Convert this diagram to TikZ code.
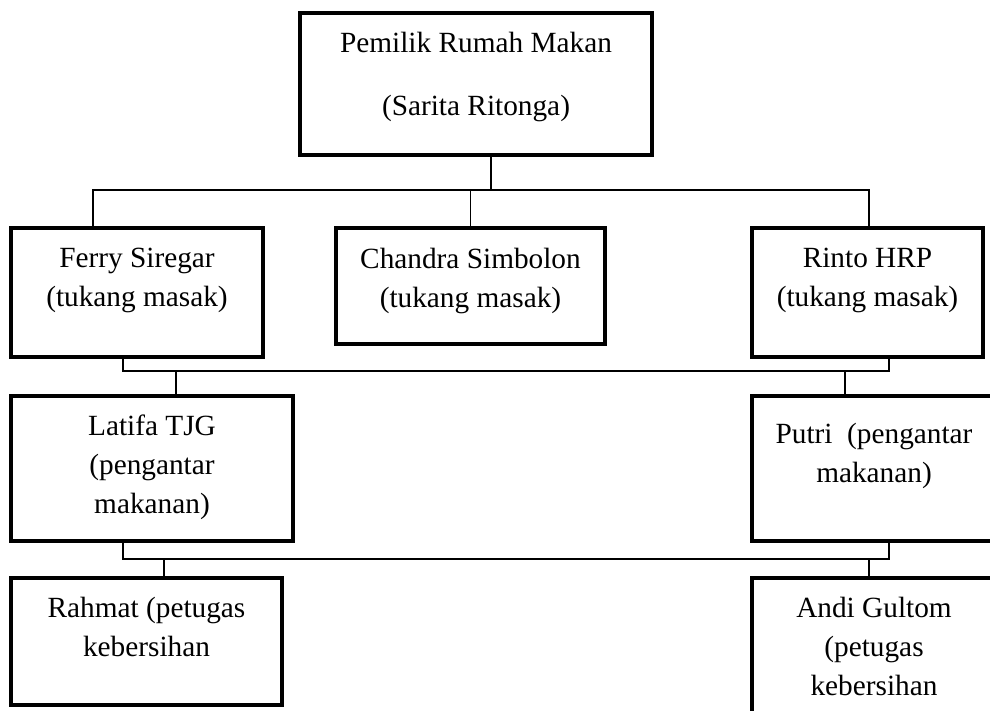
\documentclass[tikz,border=0pt]{standalone}
\usepackage{fontspec}
\setmainfont{Liberation Serif}

\tikzset{
  box/.style={draw, rectangle, line width=4pt, outer sep=0pt, inner sep=0pt},
  txt/.style={anchor=north, align=center, inner sep=0pt, font=\fontsize{29.3pt}{39pt}\selectfont},
  conn/.style={line width=1.8pt}
}

\begin{document}
\begin{tikzpicture}[x=1pt,y=-1pt]
\useasboundingbox (0,0) rectangle (990,711);
\clip (0,0) rectangle (990,711);

\node[box, minimum width=352pt, minimum height=142pt] (owner) at (476,84) {};

\node[box, minimum width=252pt, minimum height=129pt] (ferry) at (137,292.5) {};
\node[box, minimum width=269pt, minimum height=116pt] (chandra) at (470.5,286) {};
\node[box, minimum width=231pt, minimum height=129pt] (rinto) at (867.5,292.5) {};

\node[box, minimum width=282pt, minimum height=145pt] (latifa) at (152,468.5) {};
\node[box, minimum width=244pt, minimum height=145pt] (putri) at (874,468.5) {};

\node[box, minimum width=271pt, minimum height=127pt] (rahmat) at (146.5,641.5) {};
\node[box, minimum width=244pt, minimum height=160pt] (andi) at (874,658) {};

\node[txt, yshift=-19pt] (owner-t) at (owner.north) {Pemilik Rumah Makan\\[24pt](Sarita Ritonga)};
\node[txt, yshift=-20pt] (ferry-t) at (ferry.north) {Ferry Siregar\\(tukang masak)};
\node[txt, yshift=-20pt] (chandra-t) at (chandra.north) {Chandra Simbolon\\(tukang masak)};
\node[txt, yshift=-20pt] (rinto-t) at (rinto.north) {Rinto HRP\\(tukang masak)};
\node[txt, yshift=-19pt] (latifa-t) at (latifa.north) {Latifa TJG\\(pengantar\\makanan)};
\node[txt, yshift=-27pt] (putri-t) at (putri.north) {Putri~ (pengantar\\makanan)};
\node[txt, yshift=-19pt] (rahmat-t) at (rahmat.north) {Rahmat (petugas\\kebersihan};
\node[txt, yshift=-19pt] (andi-t) at (andi.north) {Andi Gultom\\(petugas\\kebersihan};

\coordinate (bus1) at (0,190);
\coordinate (bus2) at (0,371);
\coordinate (bus3) at (0,559);

\draw[conn] ([xshift=15pt]owner.south) -- ([xshift=15pt]owner.south |- bus1);
\draw[conn] ([xshift=-44pt]ferry.north) -- ([xshift=-44pt]ferry.north |- bus1)
  -- ([xshift=1.5pt]rinto.north |- bus1) -- ([xshift=1.5pt]rinto.north);
\draw[conn] (chandra.north) -- (chandra.north |- bus1);

\draw[conn] ([xshift=-14pt]ferry.south) -- ([xshift=-14pt]ferry.south |- bus2)
  -- ([xshift=21.5pt]rinto.south |- bus2) -- ([xshift=21.5pt]rinto.south);
\draw[conn] ([xshift=24pt]latifa.north) -- ([xshift=24pt]latifa.north |- bus2);
\draw[conn] ([xshift=-29pt]putri.north) -- ([xshift=-29pt]putri.north |- bus2);

\draw[conn] ([xshift=-29pt]latifa.south) -- ([xshift=-29pt]latifa.south |- bus3)
  -- ([xshift=15pt]putri.south |- bus3) -- ([xshift=15pt]putri.south);
\draw[conn] ([xshift=17.5pt]rahmat.north) -- ([xshift=17.5pt]rahmat.north |- bus3);
\draw[conn] ([xshift=-5pt]andi.north) -- ([xshift=-5pt]andi.north |- bus3);

\end{tikzpicture}
\end{document}
